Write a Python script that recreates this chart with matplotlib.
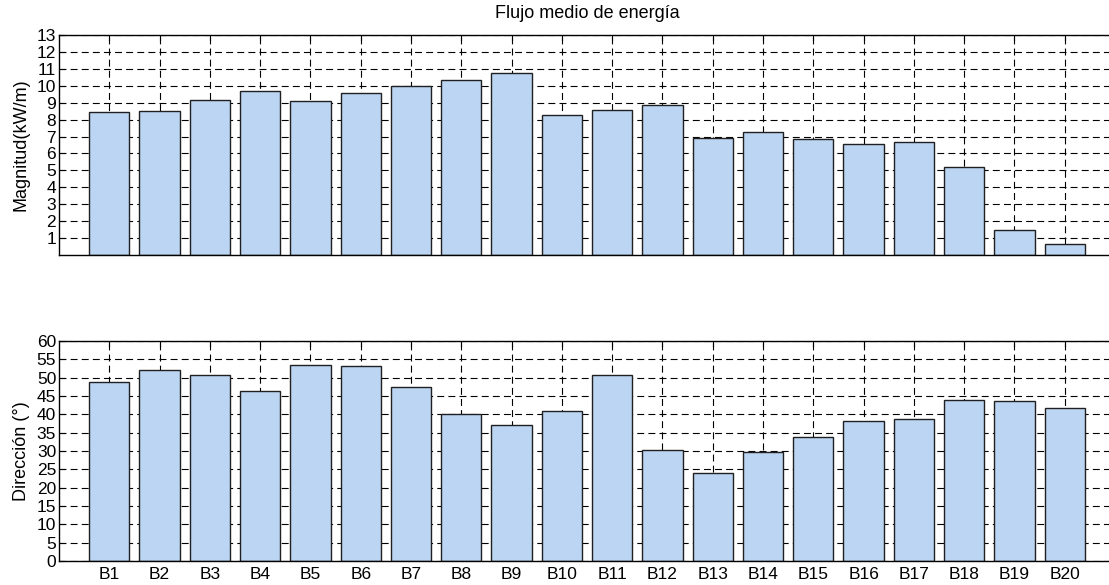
import numpy as np
import matplotlib.pyplot as plt

plt.rcParams['font.family'] = ['Liberation Sans', 'DejaVu Sans']
plt.rcParams['lines.scale_dashes'] = False

labels = ['B%d' % i for i in range(1, 21)]
magnitud = [8.43, 8.53, 9.18, 9.67, 9.08, 9.57, 10.0, 10.32, 10.74, 8.29,
            8.59, 8.88, 6.91, 7.25, 6.84, 6.58, 6.66, 5.22, 1.48, 0.63]
direccion = [48.8, 52.1, 50.7, 46.5, 53.5, 53.2, 47.4, 40.0, 37.2, 41.0,
             50.6, 30.3, 23.9, 29.6, 33.7, 38.1, 38.6, 44.0, 43.7, 41.6]
mag_ticks = list(range(1, 14))
dir_ticks = list(range(0, 61, 5))

W, H = 1109, 585
fig = plt.figure(figsize=(W / 100, H / 100), dpi=100)

x = np.arange(1, len(labels) + 1)
bar_color = '#BBD5F3'


def style(ax, vals, ylim, yticks, ylabel, show_x):
    ax.set_axisbelow(True)
    ax.bar(x, vals, width=0.8, color=bar_color, edgecolor='#202020', linewidth=1.0)
    ax.set_xlim(0, 21)
    ax.set_ylim(*ylim)
    ax.set_yticks(yticks)
    ax.set_xticks(x)
    if show_x:
        ax.set_xticklabels(labels)
    else:
        ax.set_xticklabels([])
    ax.grid(True, color='black', linestyle=(0, (5, 3)), linewidth=0.8)
    ax.tick_params(direction='in', length=4, width=0.8, top=True, right=True,
                   labelsize=12.5, pad=2, colors='black')
    ax.tick_params(axis='x', pad=4)
    for s in ax.spines.values():
        s.set_linewidth(1.0)
        s.set_color('black')
    ax.set_ylabel(ylabel, fontsize=13, labelpad=5)


ax1 = fig.add_axes([59 / W, (H - 255) / H, (1115 - 59) / W, 220 / H])
style(ax1, magnitud, (0, 13), mag_ticks, 'Magnitud(kW/m)', False)
ax1.set_title('Flujo medio de energía', fontsize=13, pad=12)

ax2 = fig.add_axes([59 / W, (H - 561) / H, (1115 - 59) / W, 220 / H])
style(ax2, direccion, (0, 60), dir_ticks, 'Dirección (°)', True)

fig.savefig('out.png', dpi=100)
